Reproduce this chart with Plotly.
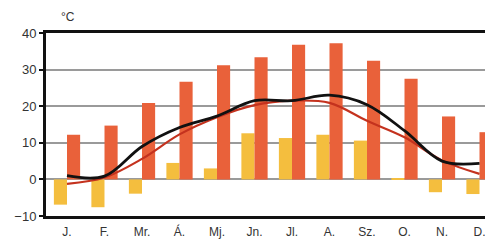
import plotly.graph_objects as go

months = ["J.", "F.", "Mr.", "Á.", "Mj.", "Jn.", "Jl.", "A.", "Sz.", "O.", "N.", "D."]
abs_min = [-6.9, -7.6, -3.9, 4.5, 3.0, 12.6, 11.3, 12.2, 10.6, 0.3, -3.5, -4.0]
abs_max = [12.2, 14.7, 20.9, 26.7, 31.2, 33.4, 36.8, 37.2, 32.4, 27.5, 17.2, 12.9]
line_black = [1.0, 0.9, 9.0, 14.2, 17.3, 21.5, 21.5, 23.0, 20.4, 13.3, 5.0, 4.4]
line_red = [-1.2, 0.5, 5.6, 12.3, 17.0, 20.3, 21.5, 20.9, 16.0, 11.5, 5.2, 1.5]
y_ticks = [-10, 0, 10, 20, 30, 40]

x = list(range(len(months)))

fig = go.Figure()
fig.add_trace(go.Bar(x=x, y=abs_min, marker=dict(color="#F4BE3E", line=dict(width=0)), name="min"))
fig.add_trace(go.Bar(x=x, y=abs_max, marker=dict(color="#E9613A", line=dict(width=0)), name="max"))
fig.add_trace(go.Scatter(x=x, y=line_red, mode="lines", line=dict(color="#C4321E", width=2.2, shape="spline", smoothing=1.0)))
fig.add_trace(go.Scatter(x=x, y=line_black, mode="lines", line=dict(color="#111111", width=2.8, shape="spline", smoothing=1.0)))

fig.update_layout(
    width=485, height=232,
    margin=dict(l=38, r=0, t=25, b=24),
    paper_bgcolor="white", plot_bgcolor="white",
    showlegend=False,
    barmode="group", bargap=0.3, bargroupgap=0,
    font=dict(family="Liberation Sans, Arial, sans-serif", color="#333333"),
    xaxis=dict(
        range=[-0.56, 11.36],
        tickmode="array", tickvals=x, ticktext=months,
        showgrid=False, zeroline=False,
        showline=True, linecolor="#111111", linewidth=3, mirror=True,
        ticks="", ticklabelstandoff=3, tickfont=dict(size=12, color="#333333"),
    ),
    yaxis=dict(
        range=[-10, 40],
        tickmode="array", tickvals=y_ticks,
        showgrid=True, gridcolor="#9a9a9a", gridwidth=1.5,
        zeroline=False,
        showline=True, linecolor="#111111", linewidth=3,
        ticks="outside", ticklen=4, tickcolor="#111111", tickwidth=1.5,
        tickfont=dict(size=13, color="#333333"),
    ),
    annotations=[
        dict(text="°C", x=0.049, y=1.0, xref="paper", yref="paper",
             xanchor="center", yanchor="bottom", yshift=7, showarrow=False,
             font=dict(size=12, color="#333333")),
    ],
)

fig.write_html("out.html")
